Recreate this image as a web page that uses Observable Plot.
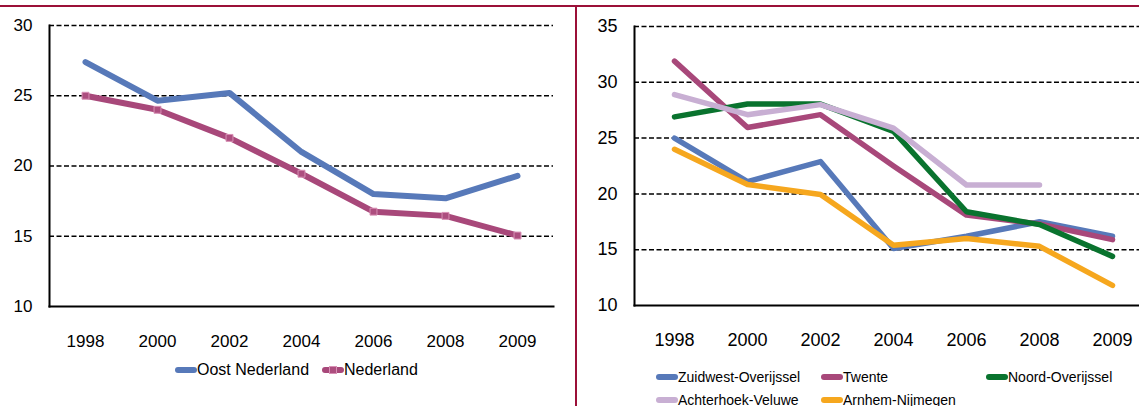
<!DOCTYPE html>
<html>
<head>
<meta charset="utf-8">
<script src="https://cdn.jsdelivr.net/npm/d3@7"></script>
<script src="https://cdn.jsdelivr.net/npm/@observablehq/plot@0.6"></script>
<style>
  html, body { margin: 0; padding: 0; background: #fff; }
  body { width: 1139px; height: 406px; position: relative; overflow: hidden; font-family: "Liberation Sans", Arial, sans-serif; }
  .panel { position: absolute; top: 0; }
  .panel svg { max-width: none !important; }
  .legend { position: absolute; font-family: "Liberation Sans", Arial, sans-serif; color: #000; white-space: nowrap; }
  .item { position: absolute; display: flex; align-items: center; }
  .item svg { display: block; }
</style>
</head>
<body>
<div id="left" class="panel" style="left:0px;width:578px"></div>
<div id="right" class="panel" style="left:578px;width:573px"></div>
<div style="position:absolute;left:0;top:5px;width:1139px;height:2px;background:#9b1038"></div>
<div style="position:absolute;left:575px;top:5px;width:2px;height:401px;background:#9b1038"></div>
<div id="legendLeft" class="legend"></div>
<div id="legendRight" class="legend"></div>
<script>
const years = ["1998", "2000", "2002", "2004", "2006", "2008", "2009"];

// Left panel
const oostNederland = [27.4, 24.65, 25.2, 21.0, 18.0, 17.7, 19.3];
const nederland     = [25.0, 24.0, 22.0, 19.45, 16.75, 16.45, 15.05];
const leftTicks = [10, 15, 20, 25, 30];

// Right panel
const zuidwestOverijssel = [25.0, 21.1, 22.9, 15.1, 16.2, 17.5, 16.2];
const twente             = [31.9, 25.95, 27.1, 22.5, 18.1, 17.3, 15.9];
const noordOverijssel    = [26.9, 28.05, 28.05, 25.6, 18.4, 17.25, 14.4];
const achterhoekVeluwe   = [28.9, 27.1, 28.0, 25.9, 20.8, 20.8, null];
const arnhemNijmegen     = [24.0, 20.85, 19.95, 15.4, 16.0, 15.3, 11.8];
const rightTicks = [10, 15, 20, 25, 30, 35];

const leftSeries = [
  {name: "Oost Nederland", values: oostNederland, color: "#5779b9", marker: false},
  {name: "Nederland", values: nederland, color: "#a8487a", marker: true}
];
const rightSeries = [
  {name: "Zuidwest-Overijssel", values: zuidwestOverijssel, color: "#5779b9"},
  {name: "Twente", values: twente, color: "#a8487a"},
  {name: "Noord-Overijssel", values: noordOverijssel, color: "#09732e"},
  {name: "Achterhoek-Veluwe", values: achterhoekVeluwe, color: "#c8afd3"},
  {name: "Arnhem-Nijmegen", values: arnhemNijmegen, color: "#f6a71e"}
];

function rows(series) {
  return series.values.map((v, i) => ({year: years[i], value: v, series: series.name}))
    .filter(d => d.value != null);
}

const font = "'Liberation Sans', Arial, sans-serif";

function panel({series, ticks, width, height, marginLeft, marginRight, marginTop, marginBottom, fontSize, strokeWidth, xPad}) {
  const marks = [
    Plot.ruleY(ticks.slice(1), {stroke: "#000", strokeWidth: 1.5, strokeDasharray: "5,2.5"}),
    Plot.frame({anchor: "left", stroke: "#000", strokeWidth: 2}),
    Plot.frame({anchor: "bottom", stroke: "#000", strokeWidth: 2}),
    Plot.axisY({ticks, tickSize: 0, tickPadding: 17, fontSize, tickFormat: d => String(d)}),
    Plot.axisX({tickSize: 0, tickPadding: xPad, fontSize})
  ];
  for (const s of series) {
    marks.push(Plot.line(rows(s), {x: "year", y: "value", stroke: s.color, strokeWidth, strokeLinecap: "round", strokeLinejoin: "round"}));
    if (s.marker) {
      marks.push(Plot.dot(rows(s), {x: "year", y: "value", symbol: "square", r: 3.9, fill: "#ad4e7f", stroke: "#d890b5", strokeWidth: 1}));
    }
  }
  return Plot.plot({
    width, height, marginLeft, marginRight, marginTop, marginBottom,
    style: {fontFamily: font, color: "#000", background: "transparent", overflow: "visible", maxWidth: "none"},
    x: {type: "point", domain: years, padding: 0.5, label: null},
    y: {domain: [ticks[0], ticks[ticks.length - 1]], label: null},
    marks
  });
}

document.getElementById("left").append(panel({
  series: leftSeries, ticks: leftTicks,
  width: 578, height: 380, marginLeft: 49, marginRight: 25, marginTop: 25, marginBottom: 74,
  fontSize: 17, strokeWidth: 6, xPad: 28
}));
document.getElementById("right").append(panel({
  series: rightSeries, ticks: rightTicks,
  width: 573, height: 380, marginLeft: 56, marginRight: 0, marginTop: 26, marginBottom: 75,
  fontSize: 18, strokeWidth: 5.5, xPad: 28
}));

// Legends
function swatch(color, marker) {
  const ns = "http://www.w3.org/2000/svg";
  const svg = document.createElementNS(ns, "svg");
  svg.setAttribute("width", 22); svg.setAttribute("height", 10);
  const l = document.createElementNS(ns, "line");
  l.setAttribute("x1", 3); l.setAttribute("x2", 19); l.setAttribute("y1", 5); l.setAttribute("y2", 5);
  l.setAttribute("stroke", color); l.setAttribute("stroke-width", 6); l.setAttribute("stroke-linecap", "round");
  svg.append(l);
  if (marker) {
    const r = document.createElementNS(ns, "rect");
    r.setAttribute("x", 7.5); r.setAttribute("y", 1.5); r.setAttribute("width", 7); r.setAttribute("height", 7);
    r.setAttribute("fill", "#ad4e7f"); r.setAttribute("stroke", "#d890b5"); r.setAttribute("stroke-width", 1);
    svg.append(r);
  }
  return svg;
}
function addItem(container, s, left, top, fontSize) {
  const d = document.createElement("div");
  d.className = "item";
  d.style.left = left + "px"; d.style.top = top + "px"; d.style.fontSize = fontSize + "px";
  d.style.height = "20px";
  d.append(swatch(s.color, s.marker));
  const t = document.createElement("span");
  t.textContent = s.name;
  d.append(t);
  container.append(d);
}
const lgL = document.getElementById("legendLeft");
addItem(lgL, leftSeries[0], 175, 360, 16);
addItem(lgL, leftSeries[1], 322, 360, 16);
const lgR = document.getElementById("legendRight");
const rightPos = [[656, 367], [821, 367], [986, 367], [656, 390], [821, 390]];
rightSeries.forEach((s, i) => addItem(lgR, s, rightPos[i][0], rightPos[i][1], 14));
</script>
</body>
</html>
